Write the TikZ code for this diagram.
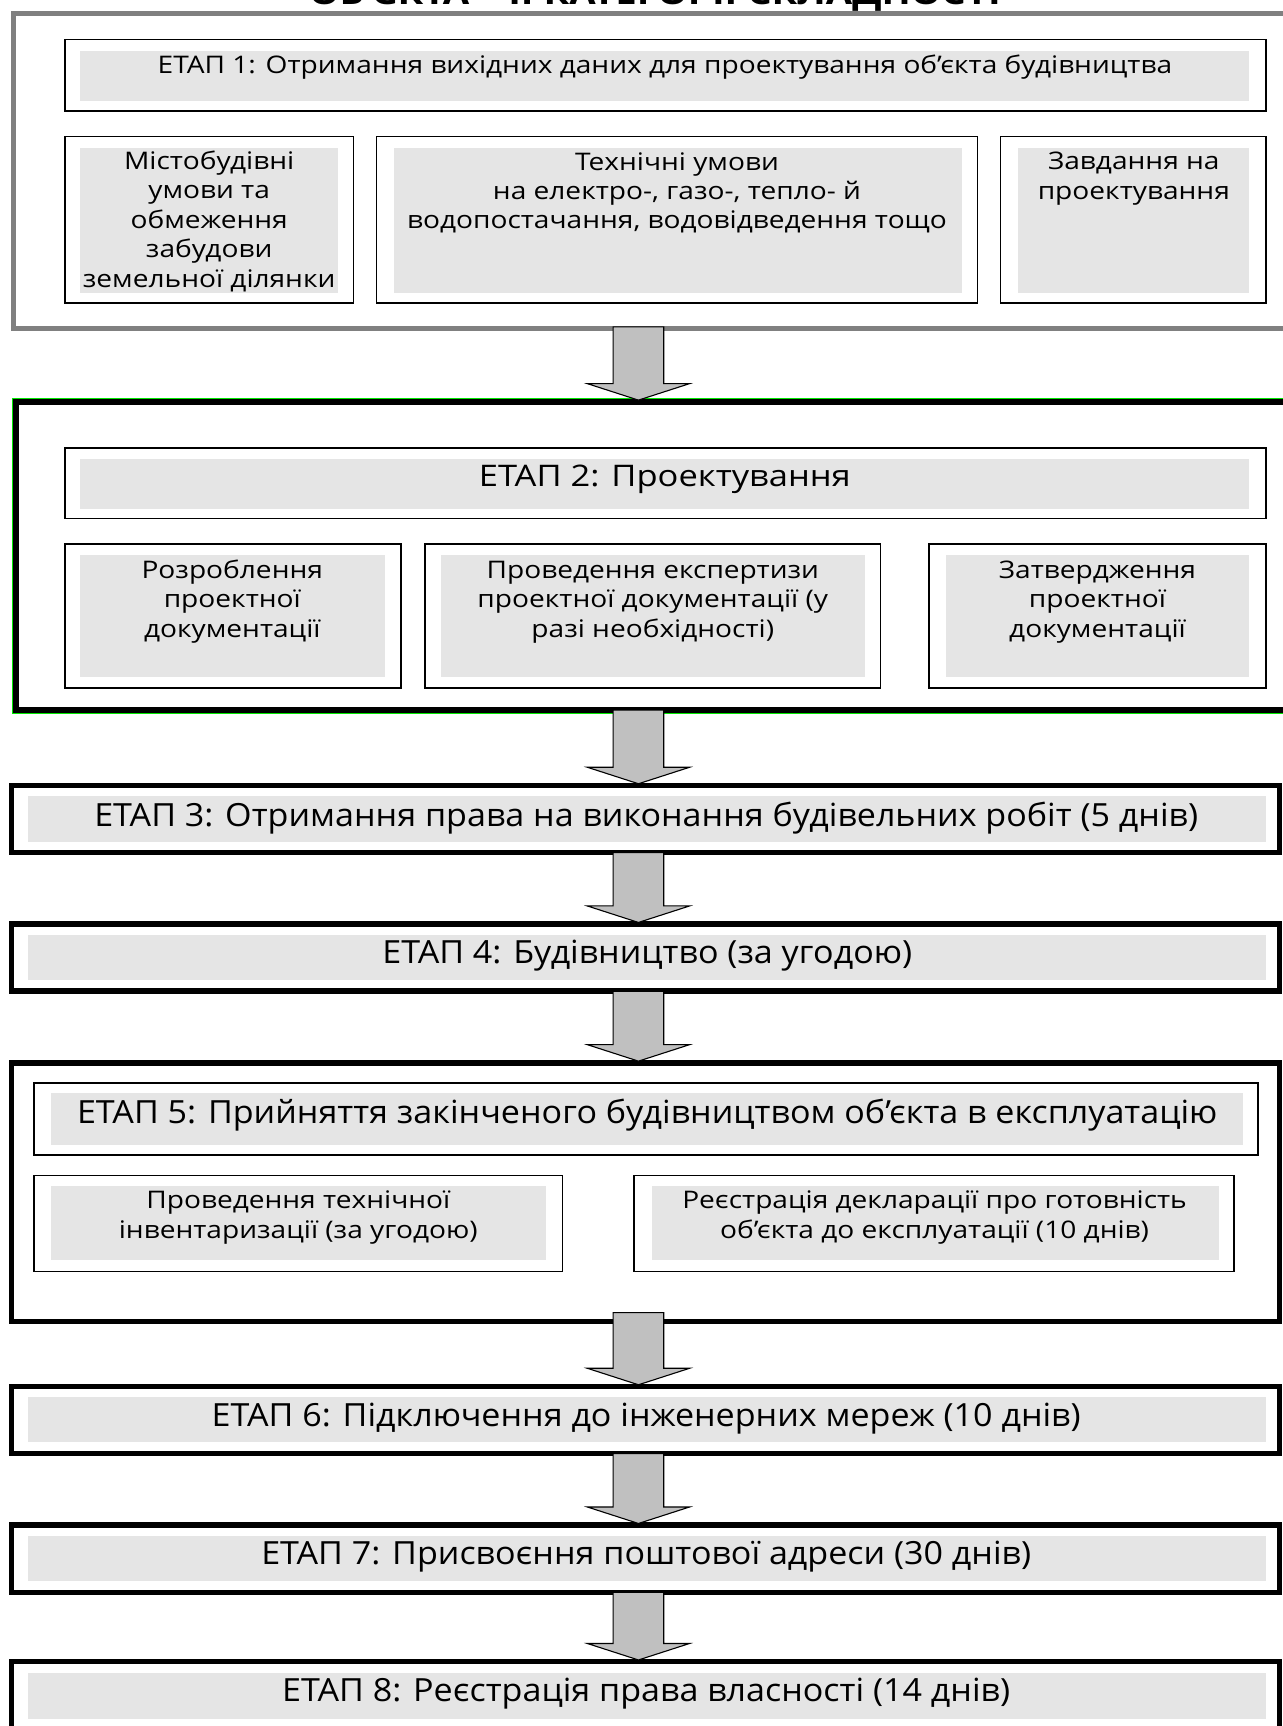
\documentclass[tikz,border=0pt]{standalone}
\usepackage{fontspec}
\setmainfont{Open Sans}
\newfontfamily\wideA[FakeStretch=1.16]{Open Sans}
\newfontfamily\wideB[FakeStretch=1.067]{Open Sans}
\usetikzlibrary{calc}
\definecolor{fillg}{RGB}{229,229,229}
\definecolor{frameGray}{RGB}{128,128,128}
\definecolor{arrGray}{RGB}{192,192,192}
\definecolor{limeg}{RGB}{0,230,0}
\tikzset{
 rbox/.style={rectangle, inner sep=0pt, outer sep=0pt},
 gframe/.style={rbox, draw=frameGray, line width=4.5pt},
 bframe/.style={rbox, draw=black, line width=5pt},
 ibox/.style={rbox, draw=black, line width=1.5pt, fill=white},
 gfill/.style={rbox, fill=fillg},
 stxt/.style={inner sep=0pt, align=center, anchor=base, font=\wideA\fontsize{22}{26.75}\selectfont},
 ltxt/.style={inner sep=0pt, anchor=base, font=\wideB\fontsize{29}{34}\selectfont},
 mtxt/.style={inner sep=0pt, anchor=base, font=\wideA\fontsize{27}{32}\selectfont},
 barrow/.style={fill=arrGray, draw=black, line width=1pt, line join=miter},
 gline/.style={draw=limeg, line width=1.2pt},
}
\newcommand\rnode[6]{\node[#2, minimum width={(#5)-(#3)}, minimum height={(#6)-(#4)}] (#1) at ({((#3)+(#5))/2},{((#4)+(#6))/2}) {};}
\newcommand\barr[3]{%
 \draw[barrow] ([xshift=-23pt,yshift=#3]ax |- #1.south) -- ([xshift=-23pt,yshift=16.5pt]ax |- #2.north) -- ([xshift=-46.5pt,yshift=16.5pt]ax |- #2.north) -- ([yshift=1.5pt]ax |- #2.north) -- ([xshift=46.5pt,yshift=16.5pt]ax |- #2.north) -- ([xshift=23pt,yshift=16.5pt]ax |- #2.north) -- ([xshift=23pt,yshift=#3]ax |- #1.south) -- cycle;}
\begin{document}
\begin{tikzpicture}[x=1pt,y=-1pt]
\useasboundingbox[fill=white] (0,0) rectangle (1165,1568);
\coordinate (ax) at (580,0);
% title (cut off at top)
\node[inner sep=0pt, anchor=base, font=\wideA\bfseries\fontsize{30}{30}\selectfont] (title) at (595,4) {ОБ’ЄКТА – ІІ КАТЕГОРІЇ СКЛАДНОСТІ};
% ---- stage 1
\rnode{f1}{gframe}{12}{12}{1320}{298}
\rnode{e1}{ibox}{59}{36}{1150}{101}
\rnode{e1f}{gfill}{73}{46}{1135}{92}
\node[stxt] (e1t) at (604,67) {ЕТАП 1: Отримання вихідних даних для проектування об’єкта будівництва};
\rnode{a1}{ibox}{59}{124}{321}{275}
\rnode{a1f}{gfill}{73}{134}{307}{266}
\node[stxt] (a1t) at (190,261) {Містобудівні\\умови та\\обмеження\\забудови\\земельної ділянки};
\rnode{b1}{ibox}{342}{124}{888}{275}
\rnode{b1f}{gfill}{358}{134}{874}{266}
\node[stxt] (b1t) at (615,208) {Технічні умови\\на електро-, газо-, тепло- й\\водопостачання, водовідведення тощо};
\rnode{c1}{ibox}{909}{124}{1150}{275}
\rnode{c1f}{gfill}{925}{134}{1135}{266}
\node[stxt] (c1t) at (1030,181) {Завдання на\\проектування};
% ---- stage 2
\rnode{f2}{bframe}{14.5}{365}{1320}{645}
\draw[gline] ([yshift=3.1pt]f2.north east) -- ([shift={(-3.1pt,3.1pt)}]f2.north west) -- ([shift={(-3.1pt,-3.1pt)}]f2.south west) -- ([yshift=-3.1pt]f2.south east);
\rnode{e2}{ibox}{59}{407}{1150}{471}
\rnode{e2f}{gfill}{73}{417}{1135}{462}
\node[mtxt] (e2t) at (604,442) {ЕТАП 2: Проектування};
\rnode{a2}{ibox}{59}{494}{364}{625}
\rnode{a2f}{gfill}{73}{504}{350}{615}
\node[stxt] (a2t) at (211,579) {Розроблення\\проектної\\документації};
\rnode{b2}{ibox}{386}{494}{800}{625}
\rnode{b2f}{gfill}{401}{504}{786}{615}
\node[stxt] (b2t) at (593,579) {Проведення експертизи\\проектної документації (у\\разі необхідності)};
\rnode{c2}{ibox}{844}{494}{1150}{625}
\rnode{c2f}{gfill}{859}{504}{1135}{615}
\node[stxt] (c2t) at (997,579) {Затвердження\\проектної\\документації};
% ---- stage 3
\rnode{f3}{bframe}{10.5}{713.5}{1162.5}{774.5}
\rnode{f3f}{gfill}{25}{723}{1150}{765}
\node[ltxt] (f3t) at (587,751) {ЕТАП 3: Отримання права на виконання будівельних робіт (5 днів)};
% ---- stage 4
\rnode{f4}{bframe}{10.5}{839.5}{1162.5}{900.5}
\rnode{f4f}{gfill}{25}{849}{1150}{890}
\node[ltxt] (f4t) at (588,875) {ЕТАП 4: Будівництво (за угодою)};
% ---- stage 5
\rnode{f5}{bframe}{10.5}{965.5}{1162.5}{1200.5}
\rnode{e5}{ibox}{31}{984}{1143}{1049}
\rnode{e5f}{gfill}{46}{993}{1129}{1040}
\node[ltxt] (e5t) at (588,1021) {ЕТАП 5: Прийняття закінченого будівництвом об’єкта в експлуатацію};
\rnode{a5}{ibox}{31}{1068}{511}{1155}
\rnode{a5f}{gfill}{46}{1077}{496}{1145}
\node[stxt] (a5t) at (271,1125) {Проведення технічної\\інвентаризації (за угодою)};
\rnode{b5}{ibox}{576}{1068}{1121}{1155}
\rnode{b5f}{gfill}{592}{1077}{1107}{1145}
\node[stxt] (b5t) at (849,1125) {Реєстрація декларації про готовність\\об’єкта до експлуатації (10 днів)};
% ---- stage 6
\rnode{f6}{bframe}{10.5}{1259.5}{1162.5}{1320.5}
\rnode{f6f}{gfill}{25}{1269}{1150}{1310}
\node[ltxt] (f6t) at (587,1296) {ЕТАП 6: Підключення до інженерних мереж (10 днів)};
% ---- stage 7
\rnode{f7}{bframe}{10.5}{1385.5}{1162.5}{1446.5}
\rnode{f7f}{gfill}{25}{1395}{1150}{1436}
\node[ltxt] (f7t) at (587,1421) {ЕТАП 7: Присвоєння поштової адреси (30 днів)};
% ---- stage 8
\rnode{f8}{bframe}{10.5}{1509.5}{1162.5}{1620}
\rnode{f8f}{gfill}{25}{1520}{1150}{1562}
\node[ltxt] (f8t) at (587,1546) {ЕТАП 8: Реєстрація права власності (14 днів)};
% ---- arrows
\barr{f1}{f2}{1pt}
\barr{f2}{f3}{0pt}
\barr{f3}{f4}{0pt}
\barr{f4}{f5}{0pt}
\barr{f5}{f6}{8pt}
\barr{f6}{f7}{0pt}
\barr{f7}{f8}{0pt}
\end{tikzpicture}
\end{document}
